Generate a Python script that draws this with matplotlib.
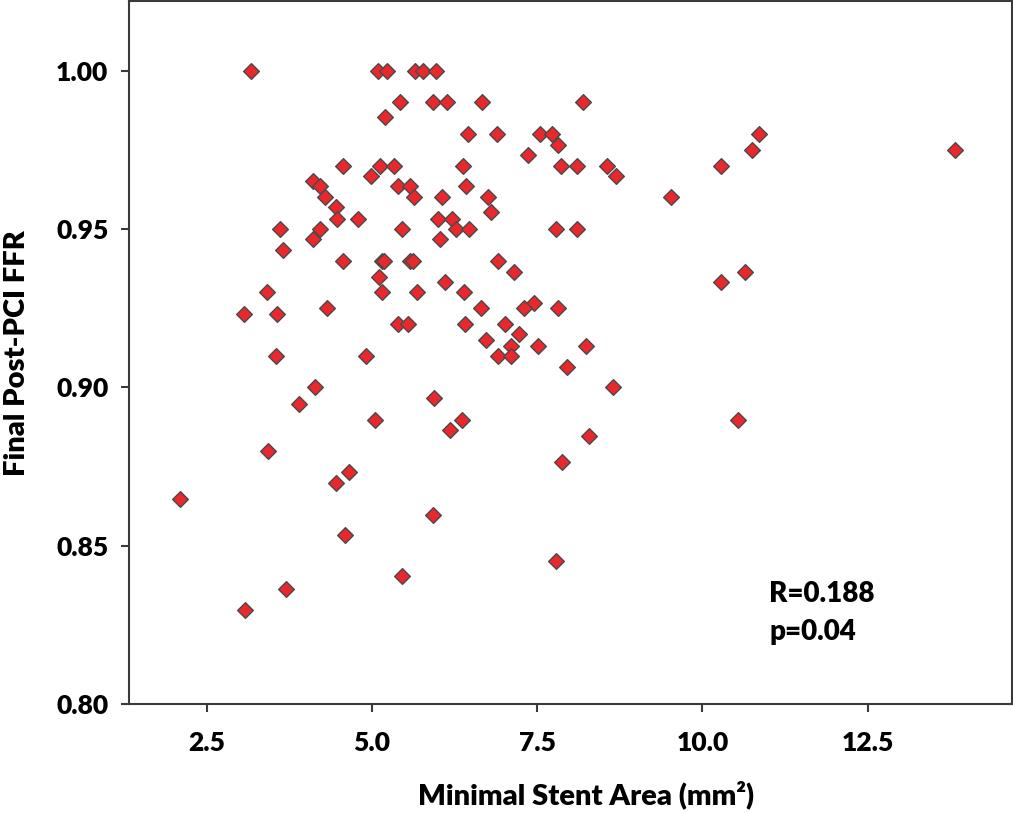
import matplotlib
matplotlib.use("Agg")
from matplotlib import pyplot as plt

plt.rcParams["font.family"] = ["Lato", "DejaVu Sans"]
plt.rcParams["font.weight"] = "heavy"

# minimal stent area (mm2) and final post-PCI FFR
stent_area = [
    3.17, 5.10, 5.23, 5.65, 5.78, 5.97,
    5.43, 5.93, 6.14, 6.66, 8.20,
    5.20,
    6.45, 6.89, 7.54, 7.73, 10.86,
    7.81,
    10.75, 13.82,
    7.36,
    4.57, 5.12, 5.33, 6.38, 7.86, 8.10, 8.56, 10.28,
    4.99, 8.69,
    4.11,
    4.21, 5.40, 5.58, 6.43,
    4.29, 5.64, 6.06, 6.75, 9.52,
    4.46,
    6.80,
    4.48, 4.79, 6.00, 6.22,
    3.61, 4.21, 5.46, 6.28, 6.47, 7.78, 8.10,
    4.11, 6.03,
    3.65,
    4.56, 5.16, 5.19, 5.58, 5.63, 6.91,
    7.15, 10.64,
    5.11,
    6.11, 10.28,
    3.41, 5.15, 5.68, 6.40,
    7.46,
    4.32, 6.65, 7.30, 7.81,
    3.06, 3.56,
    5.39, 5.54, 6.41, 7.02,
    7.23,
    6.72,
    7.10, 7.51, 8.24,
    3.55, 4.91, 6.91, 7.10,
    7.95,
    4.14, 8.65,
    5.94,
    3.90,
    5.05, 6.37, 10.54,
    6.18,
    8.29,
    3.43,
    7.88,
    4.66,
    4.46,
    2.10,
    5.92,
    4.59,
    7.78,
    5.46,
    3.70,
    3.08,
]
ffr = [
    1.000, 1.000, 1.000, 1.000, 1.000, 1.000,
    0.990, 0.990, 0.990, 0.990, 0.990,
    0.9855,
    0.980, 0.980, 0.980, 0.980, 0.980,
    0.9766,
    0.975, 0.975,
    0.9734,
    0.970, 0.970, 0.970, 0.970, 0.970, 0.970, 0.970, 0.970,
    0.9668, 0.9668,
    0.9653,
    0.9636, 0.9636, 0.9636, 0.9636,
    0.960, 0.960, 0.960, 0.960, 0.960,
    0.9569,
    0.9553,
    0.9532, 0.9532, 0.9532, 0.9532,
    0.950, 0.950, 0.950, 0.950, 0.950, 0.950, 0.950,
    0.9468, 0.9468,
    0.9435,
    0.940, 0.940, 0.940, 0.940, 0.940, 0.940,
    0.9366, 0.9366,
    0.935,
    0.9334, 0.9334,
    0.930, 0.930, 0.930, 0.930,
    0.9266,
    0.925, 0.925, 0.925, 0.925,
    0.9233, 0.9233,
    0.920, 0.920, 0.920, 0.920,
    0.917,
    0.915,
    0.9132, 0.9132, 0.9132,
    0.910, 0.910, 0.910, 0.910,
    0.9066,
    0.900, 0.900,
    0.8967,
    0.8949,
    0.8898, 0.8898, 0.8898,
    0.8866,
    0.8848,
    0.8798,
    0.8766,
    0.8732,
    0.870,
    0.8649,
    0.8598,
    0.8534,
    0.8451,
    0.8405,
    0.8363,
    0.8298,
]

x_ticks = [2.5, 5.0, 7.5, 10.0, 12.5]
y_ticks = [0.80, 0.85, 0.90, 0.95, 1.00]

fig = plt.figure(figsize=(10.13, 8.13), dpi=100)
ax = fig.add_axes([0.1276, 0.1337, 0.8711, 0.8651])

ax.scatter(stent_area, ffr, marker="D", s=64, color="#e8282c",
           edgecolors="#4a4a4a", linewidths=1.0, zorder=3)

ax.set_xlim(1.33, 14.68)
ax.set_ylim(0.80, 1.022)
ax.set_xticks(x_ticks)
ax.set_xticklabels([f"{t:.1f}" for t in x_ticks])
ax.set_yticks(y_ticks)
ax.set_yticklabels([f"{t:.2f}" for t in y_ticks])

for spine in ax.spines.values():
    spine.set_color("#3a3a3a")
    spine.set_linewidth(1.5)
ax.tick_params(direction="out", length=6, width=1.5, color="#3a3a3a",
               labelsize=19)
ax.tick_params(axis="x", pad=13)
ax.tick_params(axis="y", pad=9)

ax.set_xlabel("Minimal Stent Area (mm²)", fontsize=21, fontweight="heavy")
ax.set_ylabel("Final Post-PCI FFR", fontsize=21, fontweight="heavy")
ax.xaxis.set_label_coords(0.5176, -0.108)
ax.yaxis.set_label_coords(-0.113, 0.5)

ax.text(0.725, 0.130, "R=0.188\np=0.04", transform=ax.transAxes,
        fontsize=20, fontweight="heavy", va="center", ha="left", linespacing=1.55)

fig.savefig("out.png", dpi=100)
